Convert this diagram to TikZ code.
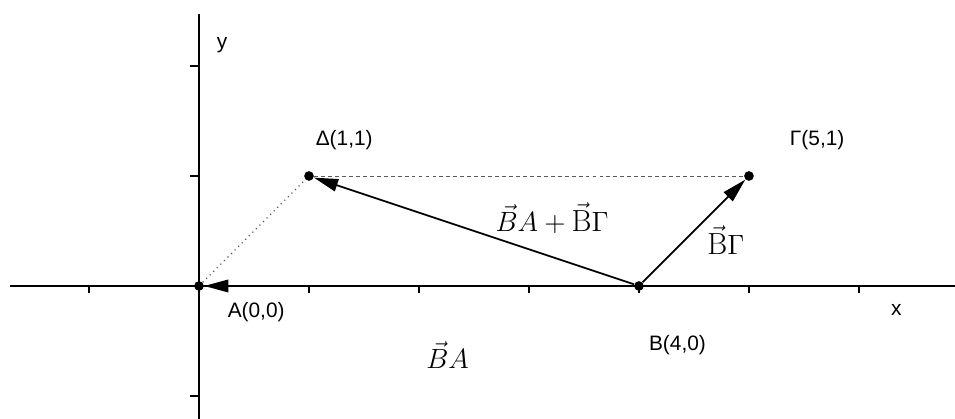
\documentclass[tikz,border=0pt]{standalone}
\usepackage{amsmath}
\usepackage{fontspec}
\newfontfamily\labelfont{Liberation Sans}
\usetikzlibrary{arrows.meta}

\tikzset{
  pt/.style={circle, fill=black, inner sep=0pt, minimum size=5pt},
  vect/.style={line width=0.9pt, -{Triangle[length=12.5pt,width=6.5pt]}},
  lbl/.style={font=\labelfont\fontsize{10.8}{12}\selectfont},
  vlbl/.style={font=\fontsize{15.8}{18}\selectfont}
}

\begin{document}
\begin{tikzpicture}[x=2cm, y=2cm]
  \useasboundingbox (-1.809,-1.209) rectangle (6.873,2.6);
  % axes
  \draw[line width=0.8pt] (-1.718,0) -- (6.873,0);
  \draw[line width=0.8pt] (0,-1.209) -- (0,2.473);
  \foreach \x in {-1,1,2,3,4,5,6}
    \draw[line width=0.6pt] (\x,0) -- (\x,-0.06);
  \foreach \y in {-1,1,2}
    \draw[line width=0.6pt] (0,\y) -- (-0.08,\y);
  \node[lbl] at (0.21,2.19) {y};
  \node[lbl] at (6.34,-0.22) {x};
  % points
  \node[pt] (A) at (0,0) {};
  \node[pt] (B) at (4,0) {};
  \node[pt] (Gam) at (5,1) {};
  \node[pt] (Del) at (1,1) {};
  \node[lbl] at (0.52,-0.24) {A(0,0)};
  \node[lbl] at (4.35,-0.54) {B(4,0)};
  \node[lbl] at (5.62,1.33) {Γ(5,1)};
  \node[lbl] at (1.32,1.33) {Δ(1,1)};
  % parallelogram sides
  \draw[gray!70!black, line width=0.6pt, dotted] (A) -- (Del);
  \draw[gray!70!black, line width=0.5pt, dash pattern=on 2pt off 1.6pt] (Del) -- (Gam);
  % vectors
  \draw[vect] (B) -- (A);
  \draw[vect] (B) -- (Gam);
  \draw[vect] (B) -- (Del);
  \node[vlbl] at (2.26,-0.63) {$\vec{B}A$};
  \node[vlbl] at (3.21,0.62) {$\vec{B}A+\vec{\mathrm{B}}\Gamma$};
  \node[vlbl] at (4.79,0.42) {$\vec{\mathrm{B}}\Gamma$};
\end{tikzpicture}
\end{document}
